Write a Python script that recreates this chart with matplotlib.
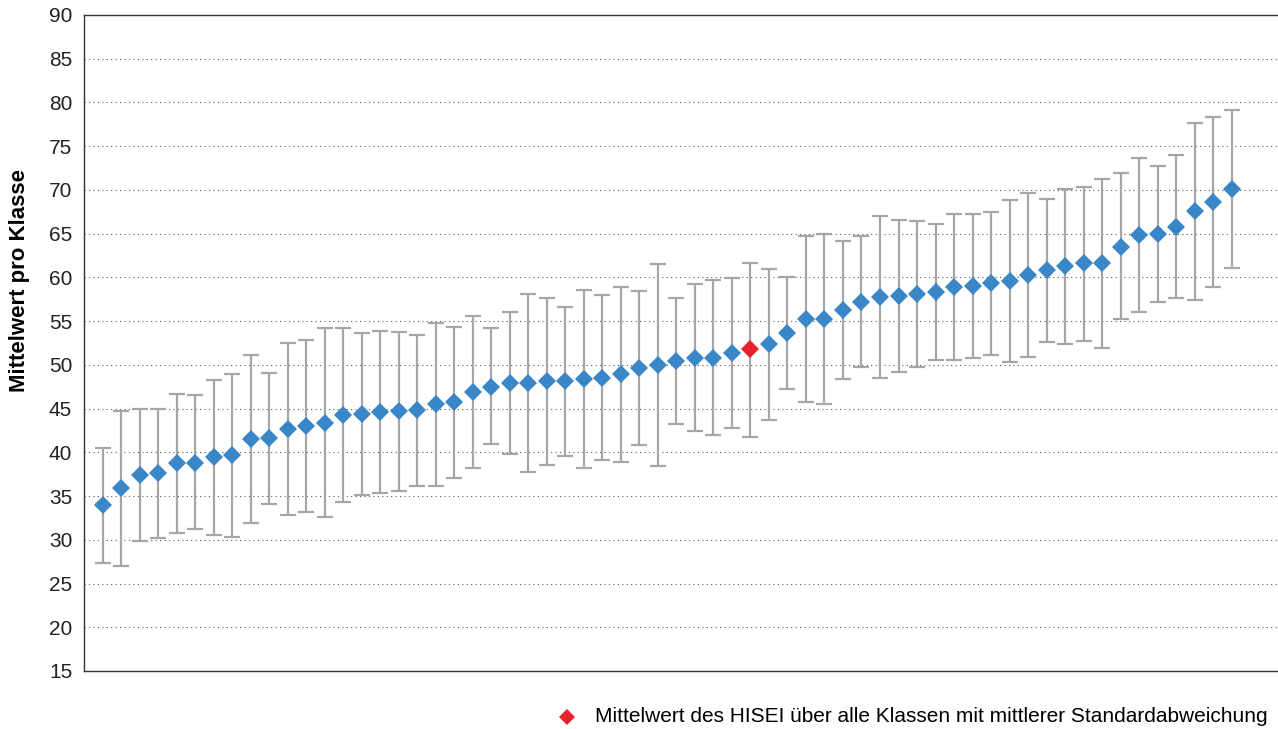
"""HISEI class means with standard deviation whiskers."""

import matplotlib
matplotlib.use("Agg")
import matplotlib.pyplot as plt
from matplotlib.lines import Line2D
import numpy as np

# class means, upper and lower ends of the whiskers (mean +/- SD)
means = [34.0, 35.9, 37.4, 37.6, 38.8, 38.8, 39.5, 39.7, 41.5, 41.6,
         42.7, 43.0, 43.4, 44.3, 44.4, 44.6, 44.7, 44.8, 45.5, 45.8,
         46.9, 47.5, 47.9, 47.9, 48.1, 48.1, 48.4, 48.5, 48.9, 49.6,
         50.0, 50.4, 50.8, 50.8, 51.4, 51.8, 52.4, 53.6, 55.2, 55.2,
         56.3, 57.2, 57.8, 57.9, 58.1, 58.3, 58.9, 59.0, 59.4, 59.6,
         60.3, 60.8, 61.3, 61.6, 61.6, 63.5, 64.9, 65.0, 65.8, 67.6,
         68.6, 70.1]
upper = [40.5, 44.7, 45.0, 44.9, 46.7, 46.5, 48.3, 49.0, 51.1, 49.1,
         52.5, 52.9, 54.2, 54.2, 53.7, 53.9, 53.8, 53.4, 54.8, 54.3,
         55.6, 54.2, 56.0, 58.1, 57.6, 56.6, 58.6, 58.0, 58.9, 58.5,
         61.5, 57.6, 59.2, 59.7, 59.9, 61.7, 61.0, 60.0, 64.7, 65.0,
         64.2, 64.7, 67.0, 66.6, 66.4, 66.1, 67.3, 67.2, 67.5, 68.9,
         69.7, 69.0, 70.1, 70.3, 71.3, 71.9, 73.7, 72.7, 74.0, 77.7,
         78.3, 79.1]
lower = [27.4, 27.0, 29.9, 30.2, 30.8, 31.2, 30.6, 30.3, 31.9, 34.1,
         32.8, 33.2, 32.6, 34.3, 35.1, 35.3, 35.6, 36.2, 36.1, 37.1,
         38.2, 41.0, 39.8, 37.7, 38.6, 39.6, 38.2, 39.1, 38.9, 40.8,
         38.4, 43.2, 42.4, 42.0, 42.8, 41.8, 43.7, 47.2, 45.8, 45.5,
         48.4, 49.8, 48.5, 49.2, 49.8, 50.5, 50.6, 50.8, 51.1, 50.3,
         50.9, 52.6, 52.4, 52.7, 51.9, 55.2, 56.0, 57.2, 57.7, 57.4,
         58.9, 61.1]
overall_index = 35  # the overall mean (red diamond)
legend_label = "Mittelwert des HISEI über alle Klassen mit mittlerer Standardabweichung"
y_label = "Mittelwert pro Klasse"

BLUE = "#3a87c8"
RED = "#e8202e"
GREY = "#a6a6a6"

plt.rcParams["font.family"] = ["Liberation Sans", "DejaVu Sans"]

means = np.array(means)
upper = np.array(upper)
lower = np.array(lower)
x = np.arange(1, len(means) + 1)

fig = plt.figure(figsize=(12.78, 7.29), dpi=100)
ax = fig.add_axes([84 / 1278, 1 - 671 / 729, 1194 / 1278, (671 - 15) / 729])

ax.errorbar(x, means, yerr=[means - lower, upper - means], fmt="none",
            ecolor=GREY, elinewidth=1.6, capsize=6, capthick=1.6, zorder=2)
colors = [RED if i == overall_index else BLUE for i in range(len(means))]
for xi, yi, c in zip(x, means, colors):
    ax.plot(xi, yi, marker="D", markersize=9, color=c,
            markeredgewidth=0, linestyle="none", zorder=3)

ax.set_xlim(0, 64.5)
ax.set_ylim(15, 90)
ax.set_yticks(np.arange(15, 91, 5))
ax.set_xticks([])
ax.tick_params(axis="y", length=0, pad=8.5, labelsize=15, labelcolor="#222222")
for v in range(20, 90, 5):
    ax.axhline(v, color="#555555", linewidth=0.8, linestyle=(0, (1, 3)), zorder=1)
for s in ax.spines.values():
    s.set_color("#333333")
    s.set_linewidth(1.0)
ax.spines["right"].set_visible(False)

fig.text(20 / 1278, 1 - 280 / 729, y_label, rotation=90, ha="center", va="center",
         fontsize=16, fontweight="bold")

fig.add_artist(Line2D([567 / 1278], [1 - 717 / 729], marker="D", markersize=8,
                      color=RED, markeredgewidth=0, linestyle="none",
                      transform=fig.transFigure))
fig.text(595 / 1278, 1 - 717 / 729, legend_label, ha="left", va="center", fontsize=15)

fig.savefig("out.png", dpi=100)
